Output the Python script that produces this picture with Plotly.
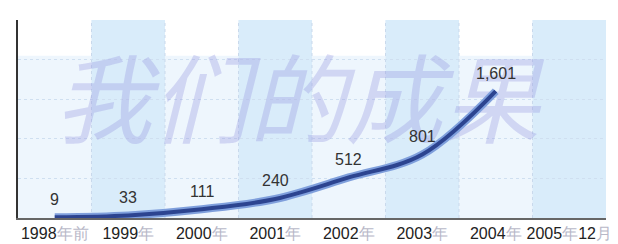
import plotly.graph_objects as go

years = ["1998", "1999", "2000", "2001", "2002", "2003", "2004", "2005"]
suffixes = ["年前", "年", "年", "年", "年", "年", "年", "年12月"]
values = [9, 33, 111, 240, 512, 801, 1601]
watermark = "我们的成果"

def tick_label(y, s):
    faded = "#b8b8c8"
    if s == "年12月":
        return (f"{y}<span style='color:{faded}'>年</span>12"
                f"<span style='color:{faded}'>月</span>")
    return f"{y}<span style='color:{faded}'>{s}</span>"

ticktext = [tick_label(y, s) for y, s in zip(years, suffixes)]
xs = list(range(len(years)))
vx = xs[:len(values)]

fig = go.Figure()

# background bands
shapes = []
for i in range(len(years)):
    if i % 2 == 1:
        shapes.append(dict(type="rect", xref="x", yref="y", x0=i - 0.5, x1=i + 0.5,
                           y0=0, y1=2500, fillcolor="#d9ecfa", line_width=0, layer="below"))
    else:
        shapes.append(dict(type="rect", xref="x", yref="y", x0=i - 0.5, x1=i + 0.5,
                           y0=2050, y1=2500, fillcolor="#ffffff", line_width=0, layer="below"))
for i in range(1, len(years)):
    shapes.append(dict(type="line", xref="x", yref="y", x0=i - 0.5, x1=i - 0.5,
                       y0=0, y1=2500, line=dict(color="#c9d9ec", width=1, dash="dot"),
                       layer="below"))

# watermark
fig.add_trace(go.Scatter(
    x=[3.3], y=[1340], mode="text", text=[watermark],
    textfont=dict(family="Noto Sans CJK SC", size=97, color="rgba(150,150,225,0.33)",
                  style="italic"),
    hoverinfo="skip", showlegend=False))

# line shading
fig.add_trace(go.Scatter(x=vx, y=values, mode="lines",
                         line=dict(color="#7f9fdc", width=8, shape="spline", smoothing=1.0),
                         hoverinfo="skip", showlegend=False))
fig.add_trace(go.Scatter(x=vx, y=values, mode="lines",
                         line=dict(color="#2c4490", width=4, shape="spline", smoothing=1.0),
                         showlegend=False))

annotations = [dict(x=x, y=v, xref="x", yref="y", text=f"{v:,}", showarrow=False,
                    yshift=18, font=dict(family="Liberation Sans, Arial", size=16,
                                         color="#333333"))
               for x, v in zip(vx, values)]

fig.update_layout(
    width=618, height=244,
    margin=dict(l=10, r=20, t=12, b=20),
    paper_bgcolor="#ffffff",
    plot_bgcolor="#eef6fd",
    shapes=shapes,
    annotations=annotations,
    xaxis=dict(range=[-0.5, 7.5], tickvals=xs, ticktext=ticktext, showgrid=False,
               zeroline=False, showline=True, linecolor="#666666", linewidth=2,
               ticks="", tickfont=dict(family="Liberation Sans, Arial", size=16, color="#222222")),
    yaxis=dict(range=[0, 2500], showticklabels=False, showgrid=True, gridcolor="#cfdff0",
               griddash="dot", dtick=500, zeroline=False, showline=True, linecolor="#333333",
               linewidth=2, ticks=""),
)

fig.write_html("out.html")
